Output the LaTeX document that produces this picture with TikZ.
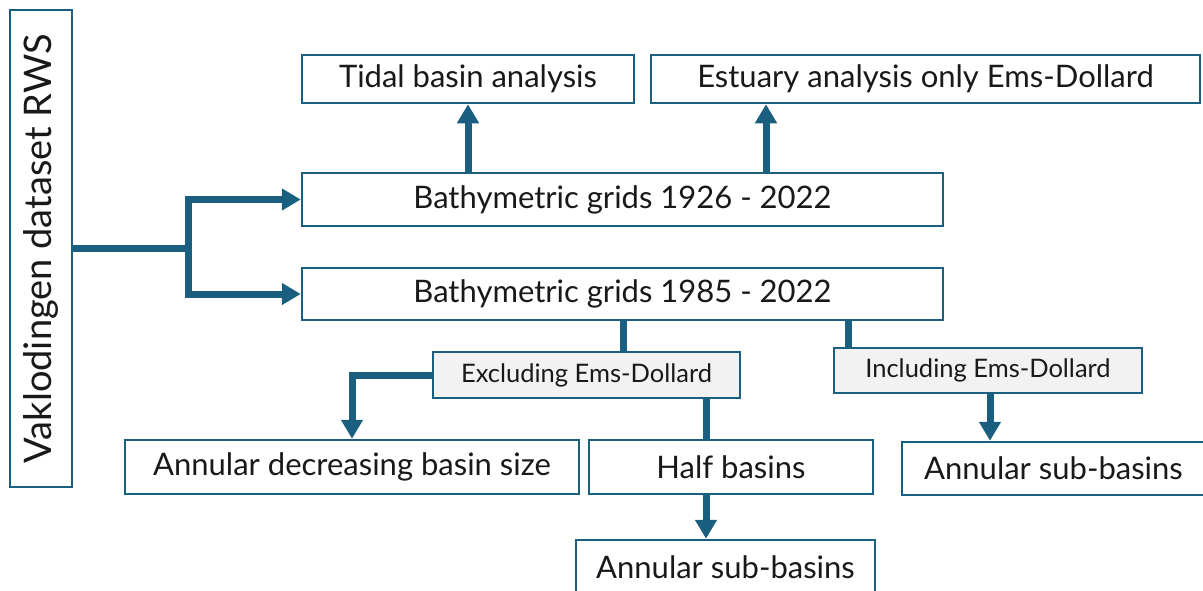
\documentclass[tikz,border=0pt]{standalone}
\usepackage{fontspec}
\setmainfont{Lato}
\usepackage{xcolor}
\usetikzlibrary{arrows.meta}
\definecolor{rwsblue}{RGB}{26,95,128}
\definecolor{lblgray}{RGB}{242,242,242}

\begin{document}
\begin{tikzpicture}[x=1pt,y=-1pt,
  box/.style={draw=rwsblue,line width=2.5pt,fill=white,inner sep=0pt,
    text=black!90,font=\fontsize{31}{36}\selectfont},
  lbl/.style={box,fill=lblgray,font=\fontsize{25.5}{30}\selectfont},
  flow/.style={draw=rwsblue,line width=7pt},
  arr/.style={flow,-{Triangle[width=21pt,length=19pt]}}]
\useasboundingbox (0,0) rectangle (1203,590);

% dataset
\node[box,rotate=90,minimum width=477pt,minimum height=62pt,
  font=\fontsize{38}{44}\selectfont] (vak) at (41,248.5) {Vaklodingen dataset RWS};

% grids and analyses
\node[box,minimum width=332pt,minimum height=48pt] (tidal) at (468,79) {Tidal basin analysis};
\node[box,minimum width=549pt,minimum height=48pt] (estuary) at (925.5,79) {Estuary analysis only Ems-Dollard};
\node[box,minimum width=641pt,minimum height=53pt] (g1926) at (622.5,199.5) {Bathymetric grids 1926 - 2022};
\node[box,minimum width=641pt,minimum height=52pt] (g1985) at (622.5,294) {Bathymetric grids 1985 - 2022};

% split of the 1985 grids
\node[lbl,minimum width=307pt,minimum height=46pt] (excl) at (586.5,375) {Excluding Ems-Dollard};
\node[lbl,minimum width=308pt,minimum height=45pt] (incl) at (988,370.5) {Including Ems-Dollard};

\node[box,minimum width=454pt,minimum height=54pt] (anndec) at (352,467) {Annular decreasing basin size};
\node[box,minimum width=284pt,minimum height=54pt] (half) at (731,467) {Half basins};
\node[box,minimum width=303pt,minimum height=53pt] (subr) at (1053.5,468.5) {Annular sub-basins};
\node[box,minimum width=299pt,minimum height=54pt] (subb) at (725.5,567) {Annular sub-basins};

\coordinate (fork) at (188,248.5);
\coordinate (xe) at (766,0);
\coordinate (xa) at (623,0);
\coordinate (xb) at (706,0);
\coordinate (xc) at (848,0);
\coordinate (xd) at (990,0);

\draw[flow] (vak.south) -- (fork);
\draw[arr] (fork) |- (g1926);
\draw[arr] (fork) |- (g1985);
\draw[arr] (g1926.north -| tidal) -- (tidal.south);
\draw[arr] (g1926.north -| xe) -- (estuary.south -| xe);

\draw[flow] (g1985.south -| xa) -- (excl.north -| xa);
\draw[flow] (g1985.south -| xc) -- (incl.north -| xc);
\draw[arr] (excl.west) -| (anndec.north);
\draw[flow] (excl.south -| xb) -- (half.north -| xb);
\draw[arr] (half.south -| xb) -- (subb.north -| xb);
\draw[arr] (incl.south -| xd) -- (subr.north -| xd);

\end{tikzpicture}
\end{document}
